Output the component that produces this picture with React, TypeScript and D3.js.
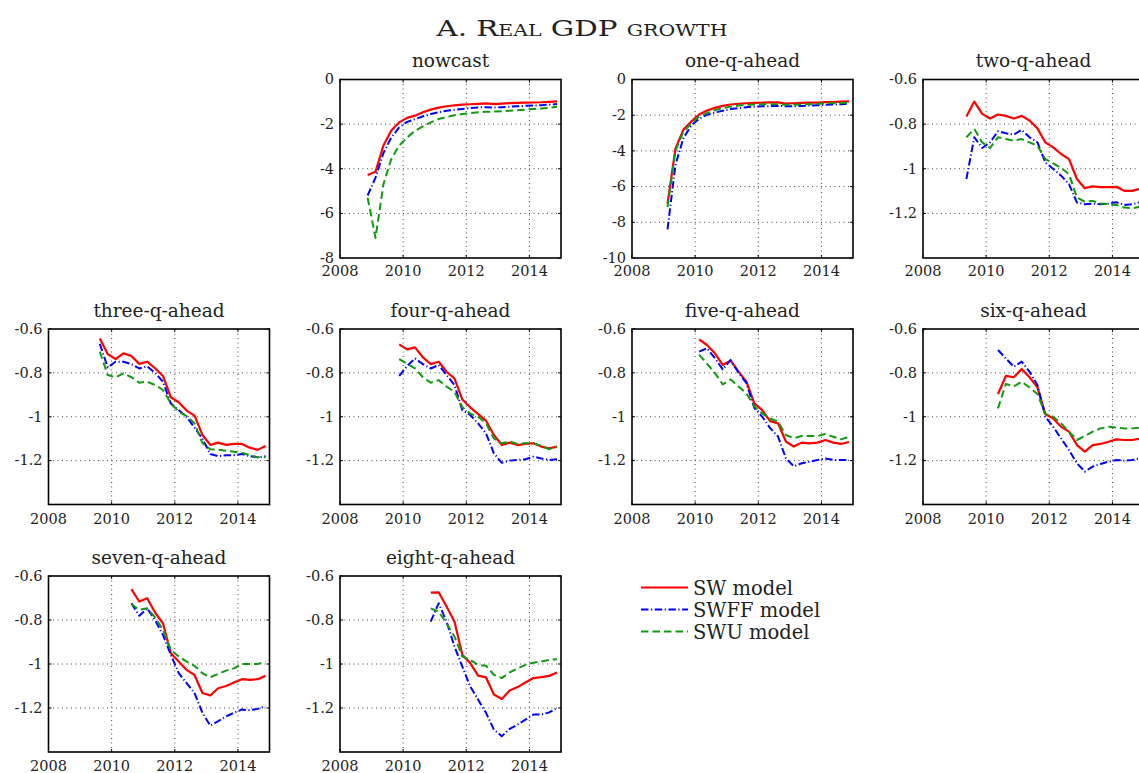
import React from "react";
import * as d3 from "d3";

// ---------- data ----------
const quarters = [
  "2008Q4",
  "2009Q1", "2009Q2", "2009Q3", "2009Q4",
  "2010Q1", "2010Q2", "2010Q3", "2010Q4",
  "2011Q1", "2011Q2", "2011Q3", "2011Q4",
  "2012Q1", "2012Q2", "2012Q3", "2012Q4",
  "2013Q1", "2013Q2", "2013Q3", "2013Q4",
  "2014Q1", "2014Q2", "2014Q3", "2014Q4",
];

const panelTitles = [
  "nowcast", "one-q-ahead", "two-q-ahead", "three-q-ahead", "four-q-ahead",
  "five-q-ahead", "six-q-ahead", "seven-q-ahead", "eight-q-ahead",
];

const xTicks = [2008, 2010, 2012, 2014];
const yTicksNowcast = [0, -2, -4, -6, -8];
const yTicksOneQ = [0, -2, -4, -6, -8, -10];
const yTicksOther = [-0.6, -0.8, -1, -1.2];

const seriesNames = ["SW model", "SWFF model", "SWU model"];

const nowcastSW = [-4.28, -4.13, -2.96, -2.29, -1.92, -1.72, -1.62, -1.47, -1.35, -1.26, -1.2, -1.16, -1.13, -1.11, -1.09, -1.07, -1.1, -1.08, -1.06, -1.05, -1.04, -1.03, -1.02, -1.0, -0.98];
const nowcastSWFF = [-5.2, -4.4, -3.3, -2.6, -2.15, -1.9, -1.78, -1.65, -1.55, -1.47, -1.4, -1.36, -1.32, -1.28, -1.25, -1.24, -1.26, -1.24, -1.22, -1.2, -1.18, -1.17, -1.15, -1.13, -1.1];
const nowcastSWU = [-5.3, -7.1, -4.7, -3.56, -2.96, -2.6, -2.3, -2.1, -1.92, -1.77, -1.68, -1.6, -1.55, -1.5, -1.47, -1.45, -1.44, -1.42, -1.4, -1.38, -1.35, -1.32, -1.3, -1.27, -1.22];

const oneSW = [-6.97, -3.89, -2.82, -2.36, -1.96, -1.74, -1.59, -1.48, -1.4, -1.36, -1.33, -1.31, -1.3, -1.28, -1.28, -1.35, -1.33, -1.31, -1.3, -1.29, -1.27, -1.26, -1.24, -1.22];
const oneSWFF = [-8.4, -4.8, -3.3, -2.58, -2.2, -1.98, -1.85, -1.75, -1.65, -1.6, -1.55, -1.52, -1.5, -1.49, -1.48, -1.5, -1.5, -1.48, -1.46, -1.44, -1.42, -1.4, -1.38, -1.36];
const oneSWU = [-7.15, -4.0, -2.95, -2.45, -2.08, -1.88, -1.72, -1.6, -1.52, -1.46, -1.42, -1.4, -1.38, -1.38, -1.38, -1.42, -1.41, -1.4, -1.38, -1.36, -1.34, -1.33, -1.32, -1.3];

const twoSW = [-0.766, -0.699, -0.754, -0.775, -0.757, -0.763, -0.775, -0.763, -0.784, -0.819, -0.882, -0.904, -0.934, -0.957, -1.046, -1.087, -1.079, -1.082, -1.082, -1.081, -1.099, -1.099, -1.09];
const twoSWFF = [-1.046, -0.859, -0.907, -0.882, -0.832, -0.841, -0.847, -0.826, -0.859, -0.882, -0.972, -1.001, -1.031, -1.069, -1.151, -1.159, -1.156, -1.159, -1.156, -1.15, -1.162, -1.159, -1.15];
const twoSWU = [-0.859, -0.822, -0.882, -0.907, -0.859, -0.867, -0.874, -0.867, -0.882, -0.897, -0.957, -0.976, -0.997, -1.024, -1.129, -1.148, -1.144, -1.156, -1.159, -1.162, -1.174, -1.177, -1.17];

const threeSW = [-0.643, -0.714, -0.737, -0.711, -0.723, -0.759, -0.749, -0.779, -0.814, -0.911, -0.934, -0.972, -0.995, -1.083, -1.128, -1.118, -1.128, -1.124, -1.124, -1.141, -1.151, -1.133];
const threeSWFF = [-0.668, -0.775, -0.749, -0.749, -0.76, -0.78, -0.77, -0.8, -0.84, -0.94, -0.97, -1.0, -1.05, -1.1, -1.17, -1.18, -1.175, -1.175, -1.17, -1.18, -1.185, -1.18];
const threeSWU = [-0.703, -0.81, -0.82, -0.802, -0.82, -0.845, -0.84, -0.855, -0.878, -0.939, -0.977, -0.997, -1.03, -1.12, -1.148, -1.15, -1.155, -1.16, -1.164, -1.175, -1.185, -1.185];

const fourSW = [-0.67, -0.693, -0.684, -0.729, -0.76, -0.749, -0.795, -0.825, -0.921, -0.957, -0.988, -1.018, -1.083, -1.129, -1.118, -1.129, -1.124, -1.121, -1.136, -1.144, -1.136];
const fourSWFF = [-0.814, -0.769, -0.734, -0.76, -0.78, -0.764, -0.81, -0.855, -0.97, -0.992, -1.03, -1.076, -1.167, -1.21, -1.2, -1.197, -1.194, -1.182, -1.19, -1.197, -1.194];
const fourSWU = [-0.737, -0.759, -0.779, -0.82, -0.845, -0.833, -0.863, -0.886, -0.957, -0.985, -1.0, -1.03, -1.099, -1.121, -1.113, -1.124, -1.121, -1.121, -1.133, -1.148, -1.136];

const fiveSW = [-0.647, -0.673, -0.711, -0.764, -0.744, -0.794, -0.84, -0.939, -0.97, -1.02, -1.03, -1.113, -1.136, -1.118, -1.121, -1.118, -1.106, -1.118, -1.124, -1.115];
const fiveSWFF = [-0.703, -0.688, -0.733, -0.784, -0.741, -0.8, -0.847, -0.96, -1.0, -1.052, -1.09, -1.19, -1.226, -1.212, -1.205, -1.197, -1.19, -1.197, -1.197, -1.197];
const fiveSWU = [-0.717, -0.758, -0.8, -0.853, -0.83, -0.862, -0.893, -0.953, -0.985, -1.008, -1.023, -1.083, -1.098, -1.088, -1.088, -1.088, -1.079, -1.091, -1.103, -1.091];

const sixSW = [-0.896, -0.814, -0.82, -0.782, -0.82, -0.866, -0.988, -1.008, -1.046, -1.068, -1.129, -1.159, -1.129, -1.124, -1.114, -1.103, -1.106, -1.106, -1.1];
const sixSWFF = [-0.696, -0.734, -0.772, -0.749, -0.795, -0.855, -1.0, -1.046, -1.099, -1.152, -1.212, -1.25, -1.227, -1.215, -1.205, -1.197, -1.2, -1.197, -1.19];
const sixSWU = [-0.962, -0.85, -0.862, -0.84, -0.866, -0.896, -0.988, -1.0, -1.03, -1.068, -1.106, -1.088, -1.068, -1.053, -1.046, -1.049, -1.053, -1.053, -1.05];

const sevenSW = [-0.66, -0.716, -0.701, -0.766, -0.815, -0.951, -0.989, -1.027, -1.05, -1.132, -1.143, -1.11, -1.1, -1.084, -1.069, -1.072, -1.069, -1.054];
const sevenSWFF = [-0.724, -0.781, -0.747, -0.8, -0.868, -0.958, -1.042, -1.087, -1.132, -1.222, -1.28, -1.26, -1.238, -1.222, -1.207, -1.21, -1.204, -1.192];
const sevenSWU = [-0.727, -0.754, -0.747, -0.788, -0.845, -0.936, -0.966, -0.989, -1.008, -1.042, -1.06, -1.045, -1.03, -1.02, -1.0, -1.0, -1.0, -0.989];

const eightSW = [-0.676, -0.674, -0.739, -0.807, -0.958, -0.996, -1.053, -1.061, -1.139, -1.159, -1.12, -1.105, -1.084, -1.064, -1.06, -1.054, -1.039];
const eightSWFF = [-0.807, -0.724, -0.807, -0.92, -1.012, -1.102, -1.162, -1.222, -1.298, -1.328, -1.295, -1.275, -1.253, -1.23, -1.23, -1.22, -1.2];
const eightSWU = [-0.747, -0.762, -0.815, -0.875, -0.966, -0.981, -1.004, -1.008, -1.049, -1.064, -1.038, -1.02, -1.004, -0.994, -0.989, -0.981, -0.978];

// ---------- layout / style ----------
const W = 1139;
const H = 773;
const colLeft = [48.5, 340, 632, 923];
const rowTop = [79.5, 329, 576];
const rowH = [178.5, 175.5, 176];
const rowLabelY = [275.5, 523.5, 771];
const boxW = 221;
const FONT = "'DejaVu Serif', serif";
const styles = [
  { color: "#ff0000", dash: "none", width: 2.2 },
  { color: "#0000ff", dash: "7.5,2.5,1.2,2.5", width: 2 },
  { color: "#109a10", dash: "7.5,4", width: 2 },
];

const panels = [
  { title: panelTitles[0], series: [nowcastSW, nowcastSWFF, nowcastSWU], start: 0, col: 1, row: 0, domain: [-8, 0], ticks: yTicksNowcast },
  { title: panelTitles[1], series: [oneSW, oneSWFF, oneSWU], start: 1, col: 2, row: 0, domain: [-10, 0], ticks: yTicksOneQ },
  { title: panelTitles[2], series: [twoSW, twoSWFF, twoSWU], start: 2, col: 3, row: 0, domain: [-1.4, -0.6], ticks: yTicksOther },
  { title: panelTitles[3], series: [threeSW, threeSWFF, threeSWU], start: 3, col: 0, row: 1, domain: [-1.4, -0.6], ticks: yTicksOther },
  { title: panelTitles[4], series: [fourSW, fourSWFF, fourSWU], start: 4, col: 1, row: 1, domain: [-1.4, -0.6], ticks: yTicksOther },
  { title: panelTitles[5], series: [fiveSW, fiveSWFF, fiveSWU], start: 5, col: 2, row: 1, domain: [-1.4, -0.6], ticks: yTicksOther },
  { title: panelTitles[6], series: [sixSW, sixSWFF, sixSWU], start: 6, col: 3, row: 1, domain: [-1.4, -0.6], ticks: yTicksOther },
  { title: panelTitles[7], series: [sevenSW, sevenSWFF, sevenSWU], start: 7, col: 0, row: 2, domain: [-1.4, -0.6], ticks: yTicksOther },
  { title: panelTitles[8], series: [eightSW, eightSWFF, eightSWU], start: 8, col: 1, row: 2, domain: [-1.4, -0.6], ticks: yTicksOther },
];

function qToYear(q: string): number {
  const y = +q.slice(0, 4);
  const n = +q.slice(5);
  return y + (n - 0.5) / 4;
}

function fmt(v: number): string {
  return String(+v.toFixed(2));
}

function Panel({ p }: { p: typeof panels[number] }) {
  const left = colLeft[p.col];
  const top = rowTop[p.row];
  const boxH = rowH[p.row];
  const x = d3.scaleLinear().domain([2008, 2015]).range([left, left + boxW]);
  const y = d3.scaleLinear().domain(p.domain).range([top + boxH, top]);
  const [lo, hi] = p.domain;
  const eps = 1e-9;
  return (
    <g>
      <text x={left + boxW / 2} y={top - 12.5} textAnchor="middle" fontFamily={FONT} fontSize={18.5} fill="#222">
        {p.title}
      </text>
      {/* grid */}
      {xTicks.filter((t) => t > 2008).map((t) => (
        <line key={"gx" + t} x1={x(t)} x2={x(t)} y1={top} y2={top + boxH} stroke="#444" strokeWidth={1} strokeDasharray="1,3.5" />
      ))}
      {p.ticks.filter((t) => t > lo + eps && t < hi - eps).map((t) => (
        <line key={"gy" + t} x1={left} x2={left + boxW} y1={y(t)} y2={y(t)} stroke="#444" strokeWidth={1} strokeDasharray="1,3.5" />
      ))}
      {/* tick marks */}
      {xTicks.map((t) => (
        <g key={"tx" + t}>
          <line x1={x(t)} x2={x(t)} y1={top + boxH} y2={top + boxH - 3} stroke="#000" />
          <line x1={x(t)} x2={x(t)} y1={top} y2={top + 3} stroke="#000" />
        </g>
      ))}
      {p.ticks.map((t) => (
        <g key={"ty" + t}>
          <line x1={left} x2={left + 3} y1={y(t)} y2={y(t)} stroke="#000" />
          <line x1={left + boxW} x2={left + boxW - 3} y1={y(t)} y2={y(t)} stroke="#000" />
        </g>
      ))}
      {/* series */}
      {p.series.map((vals, si) => {
        const line = d3
          .line<number>()
          .x((_, i) => x(qToYear(quarters[p.start + i])))
          .y((d) => y(d));
        const s = styles[si];
        return (
          <path
            key={"s" + si}
            d={line(vals) || ""}
            fill="none"
            stroke={s.color}
            strokeWidth={s.width}
            strokeDasharray={s.dash}
            strokeLinejoin="round"
          />
        );
      })}
      {/* box */}
      <rect x={left} y={top} width={boxW} height={boxH} fill="none" stroke="#000" strokeWidth={1.6} />
      {/* labels */}
      {p.ticks.map((t) => (
        <text key={"ly" + t} x={left - 6} y={y(t)} dy="0.33em" textAnchor="end" fontFamily={FONT} fontSize={14.5} fill="#222">
          {fmt(t)}
        </text>
      ))}
      {xTicks.map((t) => (
        <text key={"lx" + t} x={x(t)} y={rowLabelY[p.row]} textAnchor="middle" fontFamily={FONT} fontSize={14.5} fill="#222">
          {t}
        </text>
      ))}
    </g>
  );
}

function Legend() {
  const x0 = 641;
  const x1 = 688;
  const ys = [587.5, 609.5, 631.5];
  return (
    <g>
      {seriesNames.map((name, i) => (
        <g key={name}>
          <line x1={x0} x2={x1} y1={ys[i]} y2={ys[i]} stroke={styles[i].color} strokeWidth={styles[i].width} strokeDasharray={styles[i].dash} />
          <text x={x1 + 5} y={ys[i]} dy="0.36em" fontFamily={FONT} fontSize={19.5} fill="#222">
            {name}
          </text>
        </g>
      ))}
    </g>
  );
}

export default function App() {
  return (
    <svg
      width={W}
      height={H}
      viewBox={`0 0 ${W} ${H}`}
      style={{ position: "absolute", left: 0, top: 0, overflow: "hidden", background: "#fff" }}
    >
      <rect x={0} y={0} width={W} height={H} fill="#fff" />
      <text
        x={582}
        y={36}
        textAnchor="middle"
        fontFamily={FONT}
        fontSize={23}
        fill="#222"
        style={{ fontVariant: "small-caps" }}
        textLength={291}
        lengthAdjust="spacingAndGlyphs"
      >
        A. Real GDP growth
      </text>
      {panels.map((p) => (
        <Panel key={p.title} p={p} />
      ))}
      <Legend />
    </svg>
  );
}
